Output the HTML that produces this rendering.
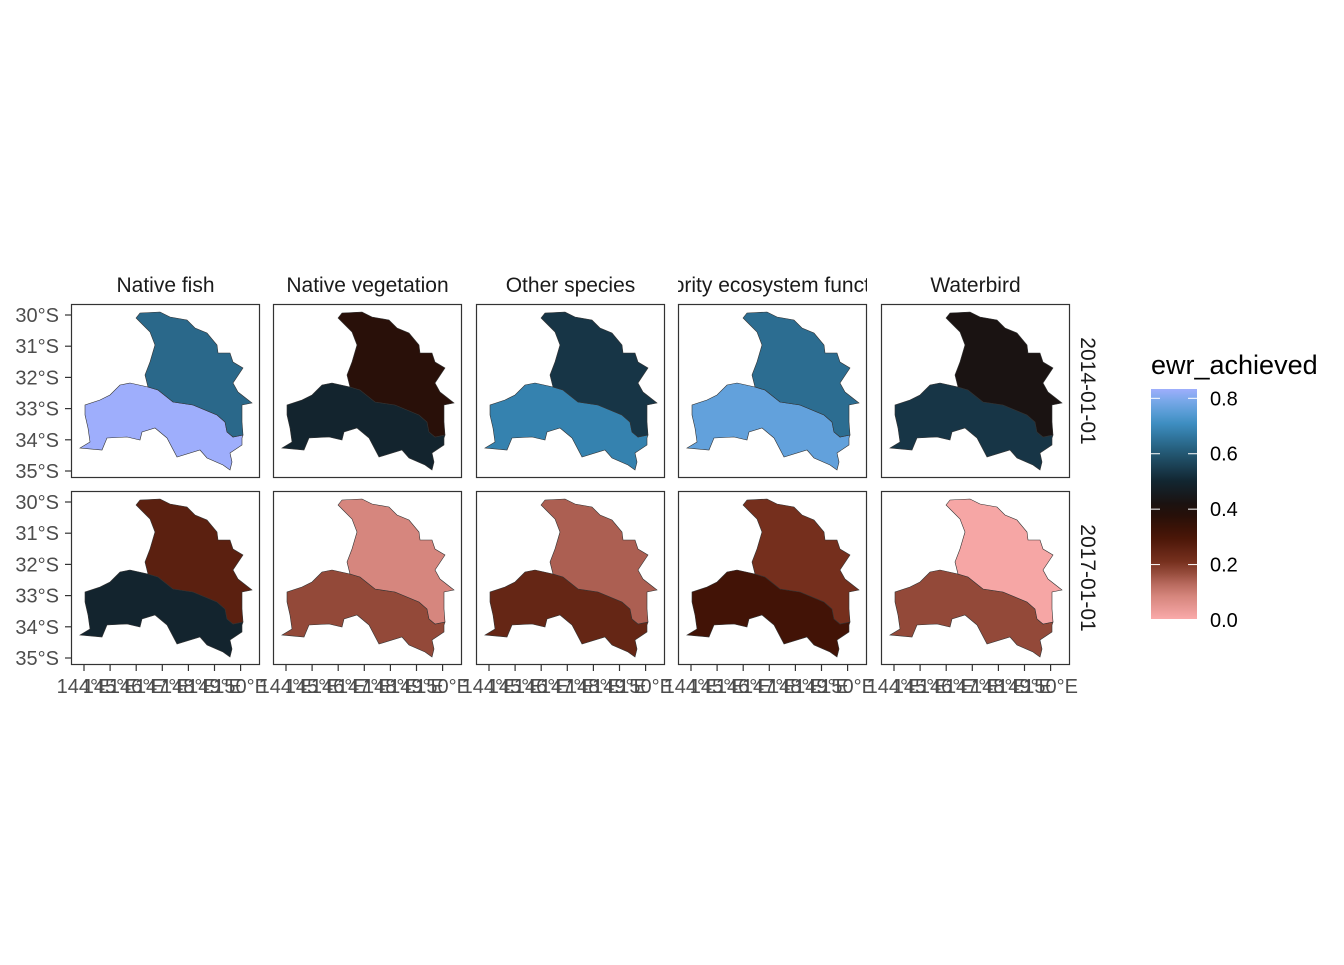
<!DOCTYPE html>
<html><head><meta charset="utf-8"><style>
body{margin:0;background:#fff;}
svg text{font-family:"Liberation Sans",sans-serif;}
</style></head><body>
<svg id="c" width="1344" height="960" xmlns="http://www.w3.org/2000/svg"></svg>
<script>
const facets = ["Native fish","Native vegetation","Other species","Priority ecosystem function","Waterbird"];
const dates = ["2014-01-01","2017-01-01"];
const northValues = [[0.63,0.37,0.53,0.64,0.42],[0.26,0.08,0.14,0.21,0.01]];
const southValues = [[0.83,0.49,0.68,0.76,0.53],[0.49,0.17,0.24,0.31,0.17]];
const latTicks = [30,31,32,33,34,35];
const lonTicks = [144,145,146,147,148,149,150];
const legendTicks = [0.0,0.2,0.4,0.6,0.8];

const NS="http://www.w3.org/2000/svg";
const svg=document.getElementById('c');
function el(t,a,p){const e=document.createElementNS(NS,t);for(const k in a)e.setAttribute(k,a[k]);(p||svg).appendChild(e);return e;}
const stops=[[0,[250,170,170]],[0.1,[205,125,115]],[0.2,[122,50,32]],[0.3,[70,20,5]],[0.4,[28,14,10]],[0.5,[18,38,50]],[0.6,[35,88,115]],[0.7,[58,140,190]],[0.77,[105,165,225]],[0.83,[158,174,252]]];
function col(v){for(let i=1;i<stops.length;i++){if(v<=stops[i][0]){const [a,ca]=stops[i-1],[b,cb]=stops[i];const t=(v-a)/(b-a);return 'rgb('+ca.map((c,j)=>Math.round(c+(cb[j]-c)*t)).join(',')+')';}}return 'rgb(158,174,252)';}

const colX=[71,273,476,678,881], rowY=[304,491], PW=189, PH=174;
const lonX=l=>13+(l-144)*26.1, latY=l=>11+(l-30)*31.2;
const north=[[136,318],[140,313],[160,312],[170,317],[187,320],[195,328],[207,333],[217,345],[218,353],[230,353],[233,362],[243,368],[233,383],[238,392],[252,403],[242,405],[242,422],[243,435],[233,437],[227,432],[225,422],[217,415],[193,405],[173,402],[158,390],[148,387],[145,375],[150,362],[155,345],[150,332],[140,322]];
const south=[[148,387],[130,383],[120,385],[110,395],[100,400],[85,405],[85,415],[88,428],[90,442],[80,448],[102,450],[107,438],[127,437],[140,440],[142,432],[155,428],[167,438],[177,457],[200,450],[207,458],[223,465],[230,470],[232,462],[230,453],[242,445],[242,438],[243,435],[233,437],[227,432],[225,422],[217,415],[193,405],[173,402],[158,390]];
const pts=(p,dx,dy)=>p.map(q=>(q[0]-71+dx)+','+(q[1]-304+dy)).join(' ');

for(let r=0;r<2;r++)for(let c=0;c<5;c++){
  const x=colX[c],y=rowY[r];
  const g=el('g',{});
  
  
  el('rect',{x:x,y:y,width:PW,height:PH,fill:'#fff'},g);
  const s=el('polygon',{points:pts(south,x,y),fill:col(southValues[r][c]),stroke:'#333','stroke-width':0.6},g);
  
  
  const n=el('polygon',{points:pts(north,x,y),fill:col(northValues[r][c]),stroke:'#333','stroke-width':0.6},g);
  
  
  el('rect',{x:x+0.5,y:y+0.5,width:PW-1,height:PH-1,fill:'none',stroke:'#333','stroke-width':1.2},g);
  if(c===0){latTicks.forEach(l=>{const ty=y+latY(l);
    el('line',{x1:x-6,x2:x,y1:ty,y2:ty,stroke:'#333','stroke-width':1.2});
    const t=el('text',{x:x-12,y:ty+7,'text-anchor':'end','font-size':20,fill:'#4d4d4d'});t.textContent=l+'°S';
    
    });}
  if(r===1){lonTicks.forEach(l=>{const tx=x+lonX(l);
    el('line',{x1:tx,x2:tx,y1:y+PH,y2:y+PH+6,stroke:'#333','stroke-width':1.2});
    const t=el('text',{x:tx,y:y+PH+28,'text-anchor':'middle','font-size':20,fill:'#4d4d4d'});t.textContent=l+'°E';
    
    });}
}
const clip=el('defs',{});
facets.forEach((f,c)=>{
  const cp=el('clipPath',{id:'cp'+c},clip);el('rect',{x:colX[c],y:265,width:PW,height:35},cp);
  const t=el('text',{x:colX[c]+PW/2,y:292,'text-anchor':'middle','font-size':21,fill:'#1a1a1a','clip-path':'url(#cp'+c+')'});t.textContent=f;
  
  
});
dates.forEach((d,r)=>{
  const cx=1081,cy=rowY[r]+PH/2;
  const t=el('text',{x:cx,y:cy,'text-anchor':'middle','font-size':21,fill:'#1a1a1a',transform:'rotate(90 '+cx+' '+cy+')'});t.textContent=d;
  
  
});
const lg=el('linearGradient',{id:'lg',x1:0,y1:1,x2:0,y2:0},clip);
const LT=389,LB=619,LMAX=0.83;
for(let i=0;i<=20;i++){const v=LMAX*i/20;el('stop',{offset:i/20,'stop-color':col(v)},lg);}
const lgT=el('text',{x:1151,y:374,'font-size':27,fill:'#000'});lgT.textContent='ewr_achieved';


const bar=el('rect',{x:1151,y:LT,width:46,height:LB-LT,fill:'url(#lg)'});


legendTicks.forEach(v=>{const ty=LB-(v/LMAX)*(LB-LT)+1;
  if(v>0){el('line',{x1:1151,x2:1160,y1:ty,y2:ty,stroke:'#fff','stroke-width':1});el('line',{x1:1188,x2:1197,y1:ty,y2:ty,stroke:'#fff','stroke-width':1});}
  const t=el('text',{x:1210,y:ty+7,'font-size':20,fill:'#000'});t.textContent=v.toFixed(1);
  
  });
</script>
</body></html>
